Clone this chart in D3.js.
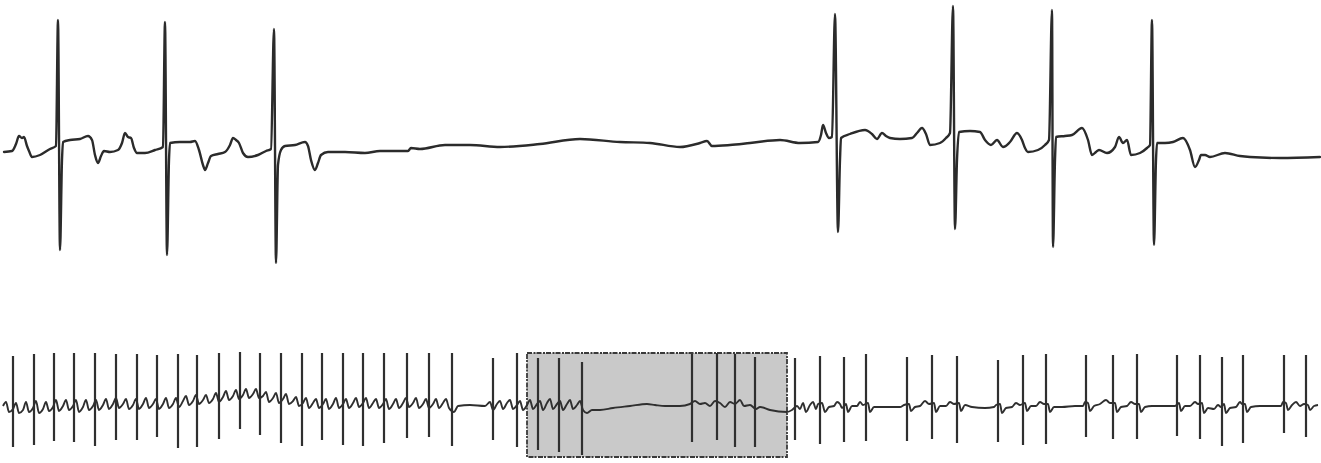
<!DOCTYPE html>
<html>
<head>
<meta charset="utf-8">
<script src="https://cdn.jsdelivr.net/npm/d3@7/dist/d3.min.js"></script>
<style>
  html, body { margin: 0; padding: 0; background: #ffffff; }
  svg { display: block; }
</style>
</head>
<body>
<svg id="chart" width="1321" height="463"></svg>
<script>
// ---------- DATA (time in sample units, amplitude in mV) ----------
// Upper rhythm strip: [time, mV]
const topTrace = [
  [4,-0.02],[12,-0.01],[16,0.06],[19,0.14],[22,0.12],[24,0.13],[27,0.04],[29,-0.01],[32,-0.07],[40,-0.05],[50,0.01],[56,0.04],
  [58,1.30],[60,-1.00],[62,-0.10],[63,0.08],[70,0.10],[80,0.11],[88,0.14],[92,0.10],[95,-0.05],[98,-0.13],[101,-0.06],[104,-0.01],
  [110,-0.02],[118,0.00],[122,0.07],[125,0.17],[128,0.13],[131,0.12],[134,0.02],[137,-0.03],[145,-0.03],[155,0.00],[163,0.03],
  [165,1.28],[167,-1.05],[169,-0.10],[170,0.07],[180,0.08],[190,0.08],[195,0.09],[199,0.00],[203,-0.15],[205,-0.20],[208,-0.13],
  [211,-0.06],[218,-0.04],[225,-0.02],[230,0.05],[233,0.12],[236,0.10],[239,0.07],[243,-0.03],[248,-0.07],[258,-0.05],[266,-0.01],
  [271,0.01],[274,1.21],[276,-1.13],[278,-0.15],[281,0.00],[285,0.04],[295,0.05],[305,0.08],[308,0.04],[311,-0.10],[315,-0.20],
  [318,-0.13],[321,-0.05],[328,-0.02],[345,-0.02],[365,-0.03],[380,-0.01],[408,-0.01],[411,0.02],[420,0.01],[445,0.05],[470,0.05],
  [500,0.03],[540,0.06],[580,0.11],[620,0.08],[650,0.07],[680,0.03],[700,0.07],[707,0.09],[712,0.04],[730,0.05],[750,0.07],
  [780,0.10],[800,0.07],[818,0.08],[821,0.15],[823,0.25],[826,0.17],[829,0.12],[832,0.13],
  [835,1.36],[838,-0.82],[840,-0.10],[841,0.12],[850,0.16],[865,0.20],[872,0.16],[877,0.11],[882,0.17],[886,0.14],[890,0.12],
  [900,0.11],[912,0.12],[917,0.17],[922,0.22],[926,0.16],[930,0.05],[940,0.07],[946,0.12],[950,0.17],
  [953,1.44],[955,-0.79],[957,-0.10],[959,0.18],[970,0.19],[980,0.18],[985,0.10],[991,0.05],[997,0.10],[1003,0.03],[1010,0.08],
  [1017,0.17],[1022,0.10],[1025,0.02],[1028,-0.02],[1038,0.00],[1045,0.05],[1049,0.10],
  [1052,1.40],[1053,-0.97],[1055,-0.10],[1056,0.13],[1065,0.14],[1072,0.15],[1082,0.22],[1088,0.10],[1092,-0.05],[1096,-0.02],
  [1099,0.00],[1107,-0.03],[1115,0.03],[1119,0.13],[1123,0.07],[1127,0.10],[1131,-0.05],[1140,-0.03],[1147,0.02],[1150,0.05],
  [1152,1.30],[1154,-0.95],[1156,-0.10],[1157,0.07],[1165,0.07],[1173,0.08],[1183,0.12],[1190,0.00],[1195,-0.17],[1199,-0.10],
  [1201,-0.05],[1205,-0.05],[1210,-0.07],[1225,-0.03],[1240,-0.06],[1250,-0.07],[1280,-0.08],[1320,-0.07]
];

// Lower compressed strip: baseline activity [time, mV]
const bottomTrace = [
  [3,-0.01],[6,0.03],[9,-0.07],[13,-0.04],[16,0.02],[19,-0.08],[23,-0.05],[26,0.03],[29,-0.07],[33,-0.03],[36,0.04],[39,-0.08],[43,-0.04],[46,0.03],[49,-0.06],
  [53,-0.02],[56,0.05],[59,-0.06],[63,-0.01],[66,0.05],[69,-0.05],[73,-0.01],[76,0.05],[79,-0.07],[83,-0.02],[86,0.05],[89,-0.05],[93,-0.01],[96,0.05],[99,-0.05],
  [103,0.00],[106,0.06],[109,-0.04],[113,0.01],[116,0.07],[119,-0.03],[123,0.01],[126,0.06],[129,-0.04],[133,0.00],[136,0.06],[139,-0.04],[143,0.01],[146,0.07],
  [149,-0.03],[153,0.01],[156,0.06],[159,-0.04],[163,0.01],[166,0.07],[169,-0.03],[173,0.01],[176,0.07],[179,-0.02],
  [183,0.04],[186,0.09],[189,0.00],[193,0.04],[196,0.10],[199,0.01],[203,0.05],[206,0.10],[209,0.02],[213,0.06],[216,0.12],[219,0.03],
  [223,0.08],[226,0.14],[229,0.05],[233,0.09],[236,0.15],[239,0.06],[243,0.10],[246,0.16],[249,0.07],[253,0.11],[256,0.16],[259,0.07],
  [263,0.09],[266,0.13],[269,0.03],[273,0.07],[276,0.12],[279,0.02],[283,0.06],[286,0.11],[289,0.01],
  [293,0.04],[296,0.08],[299,-0.01],[303,0.02],[306,0.07],[309,-0.03],[313,0.02],[316,0.06],[319,-0.03],[323,0.01],[326,0.06],[329,-0.04],
  [333,0.01],[336,0.07],[339,-0.03],[343,0.01],[346,0.06],[349,-0.03],[353,0.02],[356,0.07],[359,-0.02],[363,0.02],[366,0.07],[369,-0.03],
  [373,0.02],[376,0.06],[379,-0.03],[383,0.01],[386,0.06],[389,-0.04],[393,0.01],[396,0.06],[399,-0.03],[403,0.02],[406,0.07],[409,-0.02],
  [413,0.02],[416,0.07],[419,-0.03],[423,0.01],[426,0.06],[429,-0.03],[433,0.01],[436,0.06],[439,-0.03],[443,0.02],[446,0.06],[449,-0.03],
  [454,-0.07],[458,-0.01],[470,0.00],[485,-0.01],
  [490,0.03],[493,-0.05],[497,0.01],[500,0.04],[503,-0.04],[507,0.02],[510,0.05],[513,-0.04],[517,0.00],[520,0.04],[523,-0.05],[527,0.00],
  [530,0.05],[533,-0.04],[537,0.01],[540,0.04],[543,-0.05],[547,0.02],[550,0.06],[553,-0.04],[557,0.01],[560,0.04],[563,-0.05],[567,0.01],
  [570,0.05],[573,-0.04],[577,0.00],[580,0.04],[583,-0.05],
  [587,-0.08],[592,-0.05],[600,-0.05],[613,-0.03],[630,-0.01],[647,0.01],[655,0.00],[665,-0.01],[680,-0.01],[690,0.01],
  [695,0.04],[700,0.01],[705,0.02],[710,-0.01],[715,0.04],[720,0.02],[725,-0.02],[730,0.03],[735,0.01],[740,0.05],[744,-0.01],[750,0.00],
  [756,-0.04],[760,-0.02],[770,-0.05],[787,-0.07],[792,-0.05],
  [797,-0.01],[800,-0.04],[803,0.02],[806,-0.07],[810,0.00],[813,0.03],[816,-0.04],
  [818,0.01],[822,0.02],[825,-0.07],[829,-0.02],[834,-0.01],[837,0.03],[840,0.01],[842,-0.03],
  [846,0.01],[848,-0.07],[852,-0.01],[857,-0.01],[860,0.03],[863,0.00],
  [868,0.02],[870,-0.07],[874,-0.02],[880,-0.02],[890,-0.02],[900,-0.02],[904,0.00],
  [909,0.01],[911,-0.06],[915,-0.02],[920,-0.01],[925,0.04],[929,0.01],
  [934,0.02],[936,-0.07],[940,-0.01],[946,-0.01],[950,0.03],[954,0.01],
  [959,0.02],[961,-0.06],[965,0.00],[972,-0.02],[985,-0.03],[994,-0.02],[996,0.00],
  [1000,0.01],[1002,-0.08],[1006,-0.03],[1012,-0.02],[1016,0.02],[1020,0.00],
  [1025,0.02],[1027,-0.06],[1031,-0.01],[1036,-0.01],[1040,0.03],[1044,0.01],
  [1048,0.01],[1050,-0.07],[1054,-0.02],[1062,-0.02],[1075,-0.01],[1083,-0.01],[1085,0.03],
  [1088,0.02],[1090,-0.06],[1094,-0.01],[1100,0.01],[1106,0.05],[1110,0.02],
  [1115,0.02],[1117,-0.07],[1121,-0.02],[1127,-0.01],[1131,0.03],[1135,0.01],
  [1139,0.01],[1141,-0.07],[1145,-0.02],[1152,-0.01],[1165,-0.01],[1175,-0.01],
  [1179,0.02],[1181,-0.06],[1185,-0.01],[1190,-0.01],[1195,0.03],[1198,0.01],
  [1202,0.02],[1204,-0.08],[1208,-0.03],[1214,-0.04],[1218,0.00],[1221,-0.02],
  [1224,0.01],[1226,-0.08],[1230,-0.03],[1236,-0.02],[1240,0.03],[1242,0.01],
  [1245,0.01],[1247,-0.07],[1251,-0.02],[1260,-0.01],[1272,-0.01],[1281,-0.01],[1283,0.03],
  [1286,0.02],[1288,-0.05],[1292,0.00],[1296,0.03],[1300,-0.01],[1304,0.01],
  [1308,0.00],[1310,-0.05],[1314,-0.01],[1318,0.00]
];

// Lower strip QRS spikes
const spikeTimes  = [13,34,54,74,95,116,137,157,178,197,219,240,260,281,302,322,343,363,384,407,429,452,
                     493,517,538,559,582,692,717,735,755,795,820,844,866,907,932,957,998,1023,1046,1086,
                     1113,1137,1177,1200,1222,1243,1284,1306];
const spikeTop    = [0.49,0.51,0.52,0.52,0.52,0.51,0.51,0.50,0.51,0.50,0.52,0.53,0.52,0.52,0.52,0.52,0.52,0.52,0.52,0.52,0.52,0.52,
                     0.47,0.52,0.47,0.47,0.43,0.51,0.52,0.51,0.48,0.47,0.49,0.48,0.51,0.48,0.50,0.49,0.45,0.50,0.51,0.50,
                     0.50,0.51,0.50,0.50,0.48,0.50,0.50,0.50];
const spikeBottom = [-0.42,-0.40,-0.36,-0.37,-0.41,-0.35,-0.35,-0.32,-0.43,-0.42,-0.34,-0.24,-0.30,-0.38,-0.41,-0.35,-0.40,-0.41,-0.38,-0.33,-0.32,-0.41,
                     -0.35,-0.42,-0.45,-0.47,-0.50,-0.37,-0.35,-0.42,-0.42,-0.35,-0.39,-0.37,-0.36,-0.36,-0.34,-0.38,-0.37,-0.40,-0.39,-0.32,
                     -0.34,-0.34,-0.31,-0.34,-0.41,-0.38,-0.28,-0.32];

// Highlighted pause window on the lower strip [start, end] in time units, [low, high] in mV
const highlightTime = [527, 787];
const highlightAmp  = [-0.52, 0.52];

// ---------- SCALES ----------
const W = 1321, H = 463;
const x = d3.scaleLinear().domain([0, 1321]).range([0, W]);
const yTop = d3.scaleLinear().domain([-1.2, 1.5]).range([270, 0]);
const yBot = d3.scaleLinear().domain([-0.6, 0.6]).range([465, 345]);

const svg = d3.select("#chart");
svg.append("rect").attr("width", W).attr("height", H).attr("fill", "#ffffff");

// highlighted box
svg.append("rect")
  .attr("x", x(highlightTime[0]))
  .attr("y", yBot(highlightAmp[1]))
  .attr("width", x(highlightTime[1]) - x(highlightTime[0]))
  .attr("height", yBot(highlightAmp[0]) - yBot(highlightAmp[1]))
  .attr("fill", "#c9c9c9")
  .attr("stroke", "#3a3a3a")
  .attr("stroke-width", 1.8)
  .attr("stroke-dasharray", "5,1.5,2,1");

// upper trace
const lineTop = d3.line().x(d => x(d[0])).y(d => yTop(d[1])).curve(d3.curveMonotoneX);
svg.append("path")
  .datum(topTrace)
  .attr("d", lineTop)
  .attr("fill", "none")
  .attr("stroke", "#2b2b2b")
  .attr("stroke-width", 2.4)
  .attr("stroke-linejoin", "round")
  .attr("stroke-linecap", "round");

// lower baseline trace
const lineBot = d3.line().x(d => x(d[0])).y(d => yBot(d[1])).curve(d3.curveMonotoneX);
svg.append("path")
  .datum(bottomTrace)
  .attr("d", lineBot)
  .attr("fill", "none")
  .attr("stroke", "#2f2f2f")
  .attr("stroke-width", 1.9)
  .attr("stroke-linejoin", "round");

// lower spikes
const spikes = spikeTimes.map((t, i) => ({ t, top: spikeTop[i], bot: spikeBottom[i] }));
svg.append("g").selectAll("line")
  .data(spikes)
  .join("line")
  .attr("x1", d => x(d.t)).attr("x2", d => x(d.t))
  .attr("y1", d => yBot(d.top)).attr("y2", d => yBot(d.bot))
  .attr("stroke", "#2f2f2f")
  .attr("stroke-width", 2.2);
</script>
</body>
</html>
